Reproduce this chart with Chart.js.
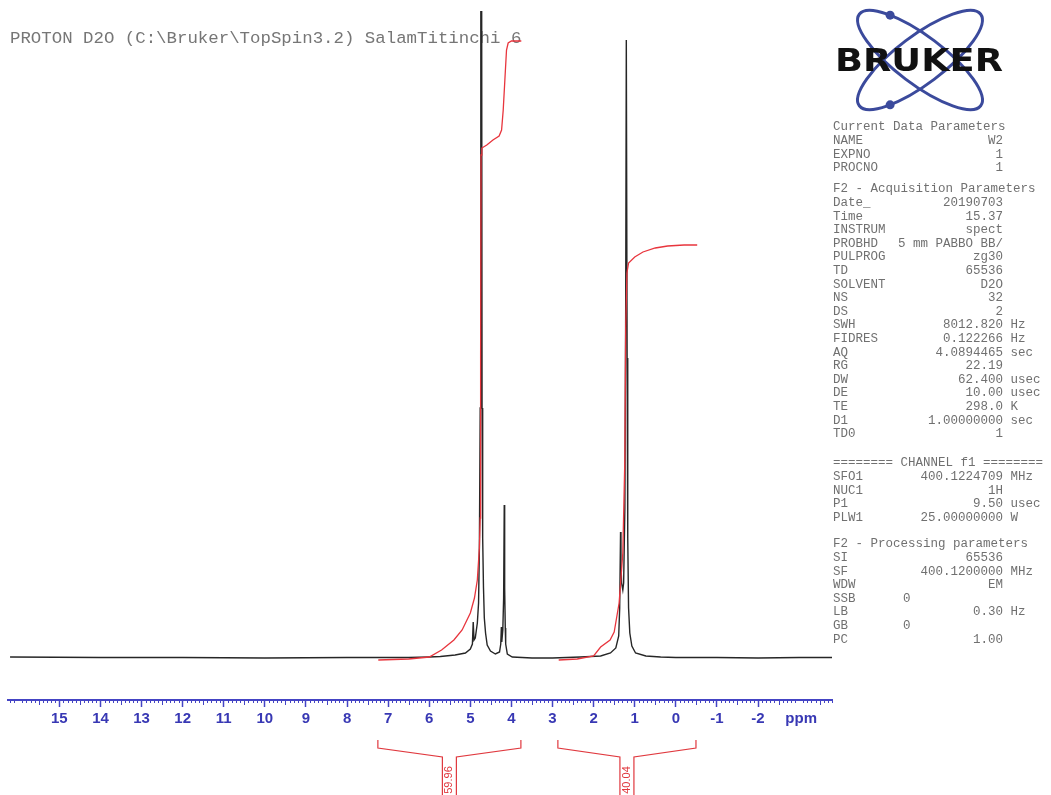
<!DOCTYPE html>
<html><head><meta charset="utf-8">
<style>html,body{margin:0;padding:0;background:#fff;}#wrap{width:1051px;height:795px;position:relative;}</style>
<script src="https://cdn.jsdelivr.net/npm/chart.js@4.4.1/dist/chart.umd.min.js"></script>
</head><body><div id="wrap"><canvas id="c" width="1051" height="795"></canvas></div>
<script>
// ---------- DATA ----------
const titleText = 'PROTON D2O (C:\\Bruker\\TopSpin3.2) SalamTitinchi 6';

const tickValues = [15,14,13,12,11,10,9,8,7,6,5,4,3,2,1,0,-1,-2,-3.05];
const tickLabels = ['15','14','13','12','11','10','9','8','7','6','5','4','3','2','1','0','-1','-2','ppm'];

// spectrum (ppm, intensity)
const spectrumPpm = [16.2,14,12,10,8,7,6.5,6.0,5.73,5.37,5.12,5.00,4.95,4.93,4.91,4.88,4.83,4.80,4.78,4.76,4.745,4.73,4.715,4.70,4.68,4.66,4.63,4.59,4.51,4.39,4.29,4.26,4.245,4.235,4.21,4.19,4.175,4.165,4.15,4.14,4.10,3.98,3.5,3.0,2.32,1.83,1.59,1.46,1.39,1.366,1.345,1.335,1.32,1.29,1.27,1.24,1.22,1.205,1.195,1.185,1.17,1.15,1.12,1.07,0.98,0.73,0.37,0,-1,-2,-3,-3.8];
const spectrumIntensity = [1,0.5,0.5,0,0.5,0.5,0.5,1,1.5,3,5,9,14,36,18,20,35,55,110,250,900,900,250,120,70,40,25,13,7,4,6,14,31,16,28,60,153,70,30,14,4,1,0,0,1,2,5,10,22,50,126,95,75,68,75,150,350,618,618,300,120,50,25,12,5,2,1,0.5,0.5,0,0.5,0.5];

// integral curves
const integral1Ppm = [7.24,6.5,6.0,5.7,5.4,5.2,5.0,4.9,4.83,4.78,4.76,4.75,4.74,4.72,4.6,4.45,4.3,4.24,4.2,4.16,4.12,4.08,4.0,3.76];
const integral1Height = [-2,-1,1,8,18,28,45,60,78,110,140,300,503,510,513,518,522,528,548,578,608,615,617,617];
const integral2Ppm = [2.85,2.4,2.0,1.83,1.6,1.5,1.38,1.29,1.24,1.22,1.19,1.15,1.0,0.8,0.5,0.2,-0.2,-0.52];
const integral2Height = [-2,-1,2,11,18,26,55,105,200,330,385,395,401,406,410,412,413,413];

// integral regions and values
const integralStart = [7.25, 2.87];
const integralEnd = [3.77, -0.49];
const integralValues = ['59.96', '40.04'];

// parameter listing
const currentDataParams = [['NAME','W2',''],['EXPNO','1',''],['PROCNO','1','']];
const acquisitionParams = [['Date_','20190703',''],['Time','15.37',''],['INSTRUM','spect',''],['PROBHD','5 mm PABBO BB/',''],['PULPROG','zg30',''],['TD','65536',''],['SOLVENT','D2O',''],['NS','32',''],['DS','2',''],['SWH','8012.820','Hz'],['FIDRES','0.122266','Hz'],['AQ','4.0894465','sec'],['RG','22.19',''],['DW','62.400','usec'],['DE','10.00','usec'],['TE','298.0','K'],['D1','1.00000000','sec'],['TD0','1','']];
const channelParams = [['SFO1','400.1224709','MHz'],['NUC1','1H',''],['P1','9.50','usec'],['PLW1','25.00000000','W']];
const processingParams = [['SI','65536',''],['SF','400.1200000','MHz'],['WDW','EM',''],['SSB','0',''],['LB','0.30','Hz'],['GB','0',''],['PC','1.00','']];
const sectionHeaders = ['Current Data Parameters','F2 - Acquisition Parameters','======== CHANNEL f1 ========','F2 - Processing parameters'];
const leftValueKeys = ['SSB','GB'];

// ---------- CHART ----------
const pts = (xs, ys) => xs.map((x, i) => ({x: x, y: ys[i]}));
const AXIS_BLUE = '#4444c4';

const decor = {
  id: 'decor',
  beforeDraw(chart) {
    const c = chart.ctx;
    c.save(); c.fillStyle = '#fff'; c.fillRect(0, 0, chart.width, chart.height); c.restore();
  },
  beforeDatasetsDraw(chart) {
    const c = chart.ctx;
    c.save();
    // title
    c.font = '17.4px "Liberation Mono", "Courier New", monospace';
    c.fillStyle = '#767676';
    c.textBaseline = 'alphabetic';
    c.fillText(titleText, 10, 43);

    // parameter block
    c.font = '12.5px "Liberation Mono", "Courier New", monospace';
    c.fillStyle = '#707070';
    const sections = [currentDataParams, acquisitionParams, channelParams, processingParams];
    const starts = [127, 189, 463, 544];
    const L = 13.6, xl = 833, xr = 1003;
    c.textBaseline = 'middle';
    sections.forEach((sec, si) => {
      let y = starts[si];
      c.textAlign = 'left';
      c.fillText(sectionHeaders[si], xl, y);
      sec.forEach(p => {
        y += L;
        c.textAlign = 'left';
        c.fillText(p[0], xl, y);
        if (leftValueKeys.includes(p[0])) {
          c.fillText(p[1], 903, y);
        } else {
          c.textAlign = 'right';
          c.fillText(p[1], xr, y);
        }
        if (p[2]) { c.textAlign = 'left'; c.fillText(p[2], xr + 7.5, y); }
      });
    });

    // logo
    const cx = 920, cy = 60, a = 76, b = 24, th = 37 * Math.PI / 180;
    c.strokeStyle = '#3b4a9c'; c.lineWidth = 3;
    c.beginPath(); c.ellipse(cx, cy, a, b, th, 0, 2 * Math.PI); c.stroke();
    c.beginPath(); c.ellipse(cx, cy, a, b, -th, 0, 2 * Math.PI); c.stroke();
    c.fillStyle = '#3b4a9c';
    const t1 = 228 * Math.PI / 180;
    const d1x = cx + a * Math.cos(t1) * Math.cos(th) - b * Math.sin(t1) * Math.sin(th);
    const d1y = cy + a * Math.cos(t1) * Math.sin(th) + b * Math.sin(t1) * Math.cos(th);
    c.beginPath(); c.arc(d1x, d1y, 4.5, 0, 2 * Math.PI); c.fill();
    const t2 = 132 * Math.PI / 180;
    const d2x = cx + a * Math.cos(t2) * Math.cos(-th) - b * Math.sin(t2) * Math.sin(-th);
    const d2y = cy + a * Math.cos(t2) * Math.sin(-th) + b * Math.sin(t2) * Math.cos(-th);
    c.beginPath(); c.arc(d2x, d2y, 4.5, 0, 2 * Math.PI); c.fill();
    c.font = 'bold 30px "DejaVu Sans", "Liberation Sans", sans-serif';
    c.textAlign = 'left'; c.textBaseline = 'alphabetic';
    const w = c.measureText('BRUKER').width;
    c.save();
    c.translate(835, 71);
    c.scale(168 / w, 1.05);
    c.fillStyle = '#111';
    c.fillText('BRUKER', 0, 0);
    c.restore();
    c.restore();
  },
  afterDraw(chart) {
    const c = chart.ctx, xs = chart.scales.x;
    c.save();
    // minor ticks
    c.strokeStyle = AXIS_BLUE; c.lineWidth = 1;
    const y0 = xs.top;
    for (let i = Math.ceil(xs.min * 10); i <= Math.floor(xs.max * 10); i++) {
      if (i % 10 === 0) continue;
      const px = Math.round(xs.getPixelForValue(i / 10)) + 0.5;
      const len = (i % 5 === 0) ? 5 : 3;
      c.beginPath(); c.moveTo(px, y0); c.lineTo(px, y0 + len); c.stroke();
    }
    // integral brackets
    c.strokeStyle = '#e0383e'; c.fillStyle = '#e0383e'; c.lineWidth = 1.2;
    integralStart.forEach((s, k) => {
      const xa = xs.getPixelForValue(s), xb = xs.getPixelForValue(integralEnd[k]);
      const mid = (xa + xb) / 2;
      c.beginPath();
      c.moveTo(xa, 740); c.lineTo(xa, 748); c.lineTo(mid - 7, 757); c.lineTo(mid - 7, 796);
      c.moveTo(mid + 7, 796); c.lineTo(mid + 7, 757); c.lineTo(xb, 748); c.lineTo(xb, 740);
      c.stroke();
      c.save();
      c.translate(mid, 780);
      c.rotate(-Math.PI / 2);
      c.font = '11px "Liberation Sans", Arial, sans-serif';
      c.textAlign = 'center'; c.textBaseline = 'middle';
      c.fillText(integralValues[k], 0, 0);
      c.restore();
    });
    c.restore();
  }
};

new Chart(document.getElementById('c').getContext('2d'), {
  type: 'line',
  data: {
    datasets: [
      { data: pts(integral1Ppm, integral1Height), borderColor: '#e8353d', borderWidth: 1.3, pointRadius: 0, fill: false, tension: 0 },
      { data: pts(integral2Ppm, integral2Height), borderColor: '#e8353d', borderWidth: 1.3, pointRadius: 0, fill: false, tension: 0 },
      { data: pts(spectrumPpm, spectrumIntensity), borderColor: '#262626', borderWidth: 1.4, pointRadius: 0, fill: false, tension: 0 }
    ]
  },
  options: {
    responsive: false,
    animation: false,
    devicePixelRatio: 1,
    layout: { padding: { left: 8, right: 219, top: 11, bottom: 0 } },
    plugins: { legend: { display: false }, tooltip: { enabled: false } },
    scales: {
      x: {
        type: 'linear', reverse: true, min: -3.8, max: 16.25,
        afterBuildTicks: s => { s.ticks = tickValues.map(v => ({ value: v })); },
        afterFit: s => { s.height = 95; },
        ticks: {
          autoSkip: false, maxRotation: 0, minRotation: 0, padding: 3,
          color: '#3838b4',
          font: { family: '"Liberation Sans", Arial, sans-serif', size: 15, weight: 'bold' },
          callback: (v, i) => tickLabels[i]
        },
        grid: {
          drawOnChartArea: false, drawTicks: true, tickLength: 7,
          tickColor: ctx => (ctx.tick && ctx.tick.value === -3.05) ? 'rgba(0,0,0,0)' : AXIS_BLUE,
          tickWidth: 1.5
        },
        border: { display: true, color: AXIS_BLUE, width: 2 }
      },
      y: { display: false, min: -42, max: 647 }
    }
  },
  plugins: [decor]
});
</script>
</body></html>
